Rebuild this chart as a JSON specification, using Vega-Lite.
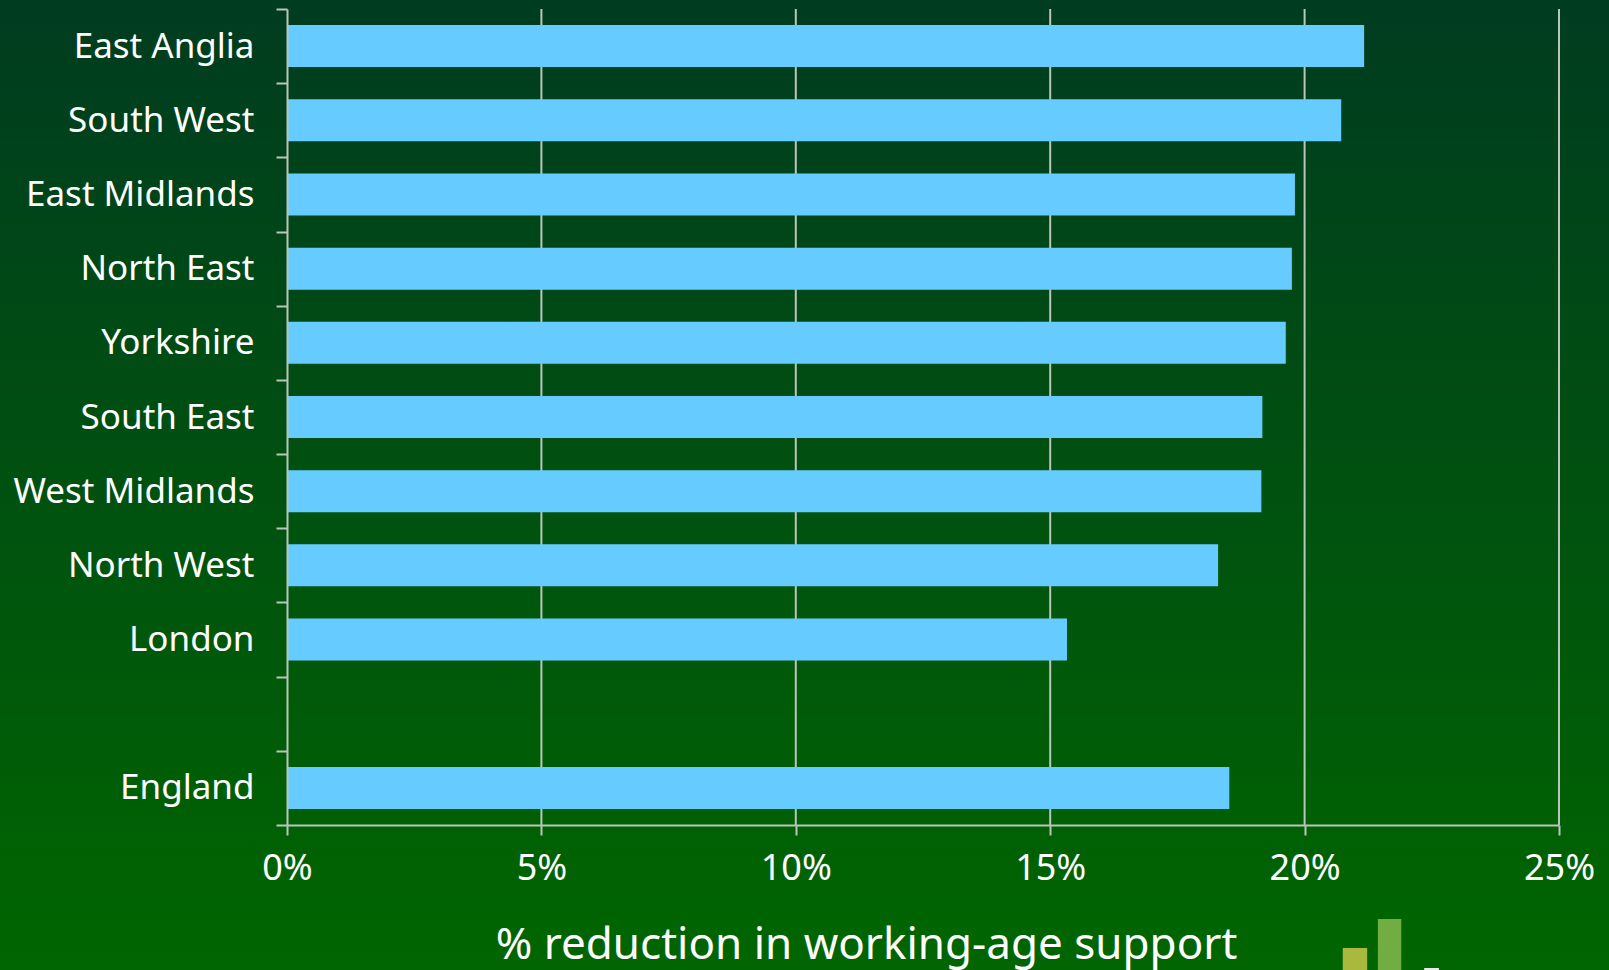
{
  "$schema": "https://vega.github.io/schema/vega-lite/v6.json",
  "autosize": "none",
  "padding": {"left": 287, "top": 9, "right": 50, "bottom": 145},
  "width": 1272,
  "height": 816,
  "background": "#006600",
  "config": {"view": {"stroke": null}, "font": "Noto Sans"},
  "resolve": {"scale": {"y": "independent"}},
  "encoding": {
    "x": {
      "field": "pct",
      "type": "quantitative",
      "scale": {"domain": [0, 0.25], "nice": false},
      "axis": {
        "values": [0, 0.05, 0.1, 0.15, 0.2, 0.25],
        "format": ".0%",
        "grid": false,
        "zindex": 1,
        "domainColor": "#b9c6b9",
        "domainWidth": 2,
        "tickColor": "#b9c6b9",
        "tickWidth": 2,
        "tickSize": 10,
        "labelFontSize": 36,
        "labelColor": "#ffffff",
        "labelPadding": 16,
        "labelFlush": false,
        "title": "% reduction in working-age support",
        "titleFontSize": 44,
        "titleFontWeight": "normal",
        "titleColor": "#ffffff",
        "titleX": 579,
        "titleY": 133,
        "titleAnchor": "middle",
        "titleBaseline": "alphabetic"
      }
    }
  },
  "layer": [
    {
      "description": "Slide backdrop: dark green fading to a brighter green",
      "data": {"values": [{"panel": "backdrop"}]},
      "mark": {
        "type": "rect",
        "clip": false,
        "fill": {
          "x1": 0, "y1": 0, "x2": 0, "y2": 1,
          "gradient": "linear",
          "stops": [
            {"offset": 0, "color": "#003c20"},
            {"offset": 1, "color": "#006600"}
          ]
        }
      },
      "encoding": {
        "x": {"value": -287},
        "x2": {"value": 1322},
        "y": {"value": -9},
        "y2": {"value": 961}
      }
    },
    {
      "description": "Vertical gridlines at each 5% step",
      "data": {"values": [{"pct": 0.05}, {"pct": 0.1}, {"pct": 0.15}, {"pct": 0.2}, {"pct": 0.25}]},
      "mark": {"type": "rule", "color": "#b9c6b9", "strokeWidth": 2}
    },
    {
      "description": "Regional reductions, with a blank row separating England",
      "data": {
        "values": [
          {"region": "East Anglia", "pct": 0.2117},
          {"region": "South West", "pct": 0.2072},
          {"region": "East Midlands", "pct": 0.1981},
          {"region": "North East", "pct": 0.1975},
          {"region": "Yorkshire", "pct": 0.1963},
          {"region": "South East", "pct": 0.1917},
          {"region": "West Midlands", "pct": 0.1915},
          {"region": "North West", "pct": 0.183},
          {"region": "London", "pct": 0.1533},
          {"region": "England", "pct": 0.1852}
        ]
      },
      "mark": {"type": "bar", "color": "#66ccff", "size": 42},
      "encoding": {
        "y": {
          "field": "region",
          "type": "nominal",
          "scale": {
            "domain": ["East Anglia", "South West", "East Midlands", "North East", "Yorkshire", "South East", "West Midlands", "North West", "London", " ", "England"],
            "paddingInner": 0,
            "paddingOuter": 0
          },
          "axis": {
            "title": null,
            "zindex": 1,
            "domainColor": "#b9c6b9",
            "domainWidth": 2,
            "tickColor": "#b9c6b9",
            "tickWidth": 2,
            "tickSize": 11,
            "tickBand": "extent",
            "labelFontSize": 35,
            "labelColor": "#ffffff",
            "labelPadding": 22,
            "labelLimit": 400
          }
        }
      }
    },
    {
      "description": "Small bar-chart emblem in the lower right corner",
      "data": {
        "values": [
          {"pct": 0.2075, "to": 0.2123, "level": 22, "tone": "#a8b93e"},
          {"pct": 0.2144, "to": 0.219, "level": 51, "tone": "#72ad44"},
          {"pct": 0.2235, "to": 0.2264, "level": 2, "tone": "#e4eee4"}
        ]
      },
      "mark": {"type": "rect", "clip": false},
      "encoding": {
        "x2": {"field": "to"},
        "y": {"field": "level", "type": "quantitative", "scale": {"domain": [0, 51], "range": [961, 910]}, "axis": null},
        "y2": {"datum": 0},
        "fill": {"field": "tone", "type": "nominal", "scale": null, "legend": null}
      }
    }
  ]
}
